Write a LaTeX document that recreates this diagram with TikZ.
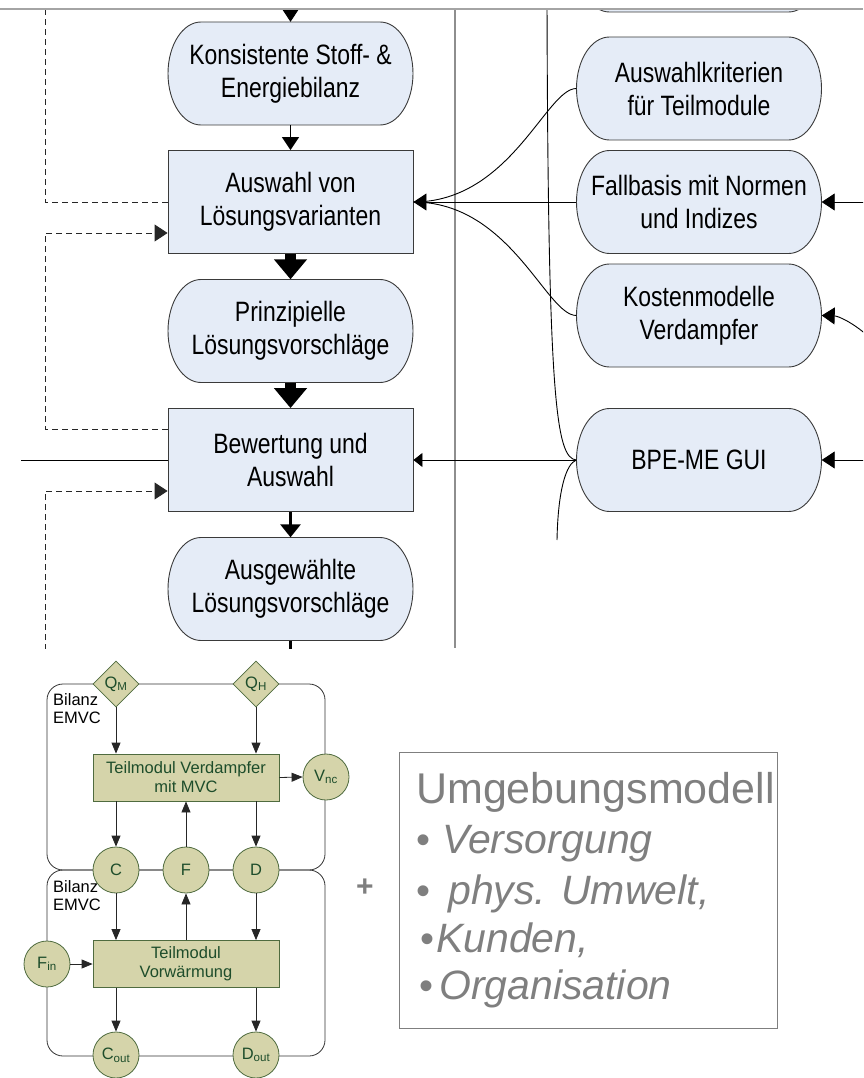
\documentclass[tikz,border=0pt]{standalone}
\usepackage{fontspec}
\setmainfont{Liberation Sans}
\newfontfamily\narrowsans[FakeStretch=0.82]{Liberation Sans}
\usetikzlibrary{arrows.meta,shapes.geometric,calc}

\definecolor{paleblue}{HTML}{E5ECF7}
\definecolor{edgegray}{HTML}{3A3A3A}
\definecolor{framegray}{HTML}{8E8E8E}
\definecolor{notegray}{HTML}{7F7F7F}
\definecolor{modfill}{HTML}{D5D4AA}
\definecolor{modline}{HTML}{4F6B3F}
\definecolor{modtext}{HTML}{1E4D2B}

\tikzset{
  arr/.tip={Triangle[length=13pt,width=17pt]},
  smallarr/.tip={Triangle[length=9pt,width=14pt]},
  fattip/.tip={Triangle[length=20pt,width=32pt]},
  flowtip/.tip={Triangle[length=11pt,width=9pt]},
  flowfont/.style={font=\narrowsans\fontsize{28}{33}\selectfont},
  stepbox/.style={rectangle, draw=edgegray, fill=paleblue, line width=0.9pt,
    minimum width=245pt, minimum height=103pt, inner sep=0pt, align=center, flowfont},
  termtext/.style={rectangle, minimum width=245pt, minimum height=103pt,
    inner sep=0pt, align=center, flowfont},
  termshape/.style={draw=edgegray, fill=paleblue, line width=0.9pt},
  conn/.style={draw=black, line width=0.9pt},
  dashline/.style={draw=black!85, line width=0.9pt, dash pattern=on 6pt off 4pt},
  fatarrow/.style={draw=black, line width=11pt, -{fattip}},
  modfont/.style={font=\fontsize{16.5}{19}\selectfont},
  modbox/.style={rectangle, draw=modline, fill=modfill, line width=0.8pt,
    minimum width=186pt, minimum height=47pt, inner sep=0pt, align=center,
    text=modtext, modfont},
  port/.style={circle, draw=modline, fill=modfill, line width=0.8pt,
    minimum size=46pt, inner sep=0pt, text=modtext, modfont},
  heat/.style={diamond, draw=modline, fill=modfill, line width=0.8pt,
    minimum width=46pt, minimum height=46pt, inner sep=0pt, text=modtext, modfont},
  flow/.style={draw=black!85, line width=0.8pt, -{flowtip}},
  balance/.style={rectangle, draw=black!80, line width=0.8pt, rounded corners=16pt,
    minimum width=278pt, minimum height=186pt, inner sep=0pt},
  ballabel/.style={anchor=north west, inner sep=0pt, align=left,
    font=\fontsize{16.5}{18}\selectfont},
  noteline/.style={anchor=base west, inner sep=0pt, text=notegray},
  notebullet/.style={anchor=base west, inner sep=0pt, text=notegray,
    font=\fontsize{40}{40}\selectfont},
}

% terminator shape with elliptical ends: name, x, y, text
\newcommand\termnode[4]{%
  \path[termshape] (#2-89.5,#3-51.5) -- (#2+89.5,#3-51.5)
    arc[start angle=90,end angle=-90,x radius=33pt,y radius=51.5pt]
    -- (#2-89.5,#3+51.5)
    arc[start angle=270,end angle=90,x radius=33pt,y radius=51.5pt] -- cycle;
  \node[termtext] (#1) at (#2,#3) {#4};
}

\begin{document}
\begin{tikzpicture}[x=1pt,y=-1pt]
\useasboundingbox (0,0) rectangle (863,1078);

% ---------------- process chain (upper part) ----------------
\begin{scope}
\clip (0,9) rectangle (863,648);

% separator
\draw[framegray, line width=1.8pt] (455,0) -- (455,648);

% main column
\termnode{konsistente}{290.5}{73.5}{Konsistente Stoff- \&\\Energiebilanz}
\node[stepbox] (auswahl) at (290.5,202) {Auswahl von\\Lösungsvarianten};
\termnode{prinzip}{290.5}{331}{Prinzipielle\\Lösungsvorschläge}
\node[stepbox] (bewertung) at (290.5,460) {Bewertung und\\Auswahl};
\termnode{ausgew}{290.5}{589}{Ausgewählte\\Lösungsvorschläge}

% knowledge sources
\termnode{oben}{699}{-39.5}{}
\termnode{kriterien}{699}{88.5}{Auswahlkriterien\\für Teilmodule}
\termnode{fallbasis}{699}{202}{Fallbasis mit Normen\\und Indizes}
\termnode{kosten}{699}{315.5}{Kostenmodelle\\Verdampfer}
\termnode{bpe}{699}{460}{BPE-ME GUI}

% free ends of connectors
\coordinate (topin) at (290.5,0);
\coordinate (botout) at (290.5,660);
\coordinate (leftend) at (21,460);
\coordinate (guitop) at (547,0);
\coordinate (guitail) at (557,540);
\coordinate (rin1) at (875,202);
\coordinate (rin2) at (868,336);
\coordinate (rin3) at (875,460);
\coordinate (fbtop) at (45,0);
\coordinate (fbbot) at (45,660);

% main flow
\draw[conn, -{arr}] (topin) -- (konsistente.north);
\draw[conn, line width=1.3pt, -{arr}] (konsistente.south) -- (auswahl.north);
\draw[fatarrow] (auswahl.south) -- (prinzip.north);
\draw[fatarrow] (prinzip.south) -- (bewertung.north);
\draw[draw=black, line width=3pt, -{Triangle[length=13pt,width=20pt]}]
  (bewertung.south) -- (ausgew.north);
\draw[draw=black, line width=3pt] (ausgew.south) -- (botout);

% feedback loops
\draw[dashline] (auswahl.west) -| (fbtop);
\draw[dashline, -{arr}] ([yshift=31pt]bewertung.west) -| (45,233)
  -- ([yshift=-31pt]auswahl.west);
\draw[dashline, -{arr}] (fbbot) |- ([yshift=-31pt]bewertung.west);
\draw[conn] (bewertung.west) -- (leftend);

% inputs to the selection step
\draw[conn] (kriterien.west) .. controls +(-30,0) and +(97,0) .. (auswahl.east);
\draw[conn] (kosten.west) .. controls +(-30,0) and +(97,0) .. (auswahl.east);
\draw[conn, -{arr}] (fallbasis.west) -- (auswahl.east);

% GUI connections
\draw[conn, -{smallarr}] (bpe.west) -- (bewertung.east);
\draw[conn] (guitop) .. controls (548,400) and (556,458) .. (bpe.west);
\draw[conn] (bpe.west) .. controls (566,464) and (558,490) .. (guitail);

% inputs from the right
\draw[conn, -{arr}] (rin1) -- (fallbasis.east);
\draw[conn, -{arr}] (rin2) .. controls (852,322) and (838,316) .. (kosten.east);
\draw[conn, -{arr}] (rin3) -- (bpe.east);
\end{scope}

\draw[framegray!80, line width=2pt] (0,9) -- (863,9);

% ---------------- balance model (lower left) ----------------
\node[balance] (bil1) at (186,777) {};
\node[balance] (bil2) at (186,963) {};
\node[ballabel] (lab1) at (53,693) {Bilanz\\EMVC};
\node[ballabel] (lab2) at (53,880) {Bilanz\\EMVC};

\node[heat] (qm) at (116,684) {Q\textsubscript{M}};
\node[heat] (qh) at (256,684) {Q\textsubscript{H}};
\node[modbox] (verd) at (186,777.5) {Teilmodul Verdampfer\\mit MVC};
\node[port] (vnc) at (326,777) {V\textsubscript{nc}};
\node[port] (c) at (116,870) {C};
\node[port] (f) at (186,870) {F};
\node[port] (d) at (256,870) {D};
\node[modbox] (vorw) at (186,964) {Teilmodul\\Vorwärmung};
\node[port] (fin) at (47,964) {F\textsubscript{in}};
\node[port] (cout) at (116,1055) {C\textsubscript{out}};
\node[port] (dout) at (256,1055) {D\textsubscript{out}};

\draw[flow] (qm.south) -- (qm.south |- verd.north);
\draw[flow] (qh.south) -- (qh.south |- verd.north);
\draw[flow] (verd.east) -- (vnc.west);
\draw[flow] (c.north |- verd.south) -- (c.north);
\draw[flow] (f.north) -- (f.north |- verd.south);
\draw[flow] (d.north |- verd.south) -- (d.north);
\draw[flow] (c.south) -- (c.south |- vorw.north);
\draw[flow] (f.south |- vorw.north) -- (f.south);
\draw[flow] (d.south) -- (d.south |- vorw.north);
\draw[flow] (fin.east) -- (vorw.west);
\draw[flow] (cout.north |- vorw.south) -- (cout.north);
\draw[flow] (dout.north |- vorw.south) -- (dout.north);

% ---------------- plus sign and environment model ----------------
\node[text=notegray, font=\fontsize{30}{30}\selectfont\bfseries] (plus) at (365,888) {+};

\node[rectangle, draw=notegray, line width=1pt, minimum width=378pt,
  minimum height=276pt, inner sep=0pt] (umw) at (588,890) {};
\node[noteline, font=\fontsize{43}{43}\selectfont] (umwtitle) at (416,803) {Umgebungsmodell};
\node[notebullet] (b1) at (416,853) {•};
\node[notebullet] (b2) at (416,904) {•};
\node[notebullet] (b3) at (420,952) {•};
\node[notebullet] (b4) at (419,999) {•};
\node[noteline, font=\fontsize{41}{41}\selectfont\itshape] (i1) at (442,853) {Versorgung};
\node[noteline, font=\fontsize{41}{41}\selectfont\itshape] (i2) at (448,904) {phys. Umwelt,};
\node[noteline, font=\fontsize{41}{41}\selectfont\itshape] (i3) at (436,952) {Kunden,};
\node[noteline, font=\fontsize{41}{41}\selectfont\itshape] (i4) at (439,999) {Organisation};
\end{tikzpicture}
\end{document}
